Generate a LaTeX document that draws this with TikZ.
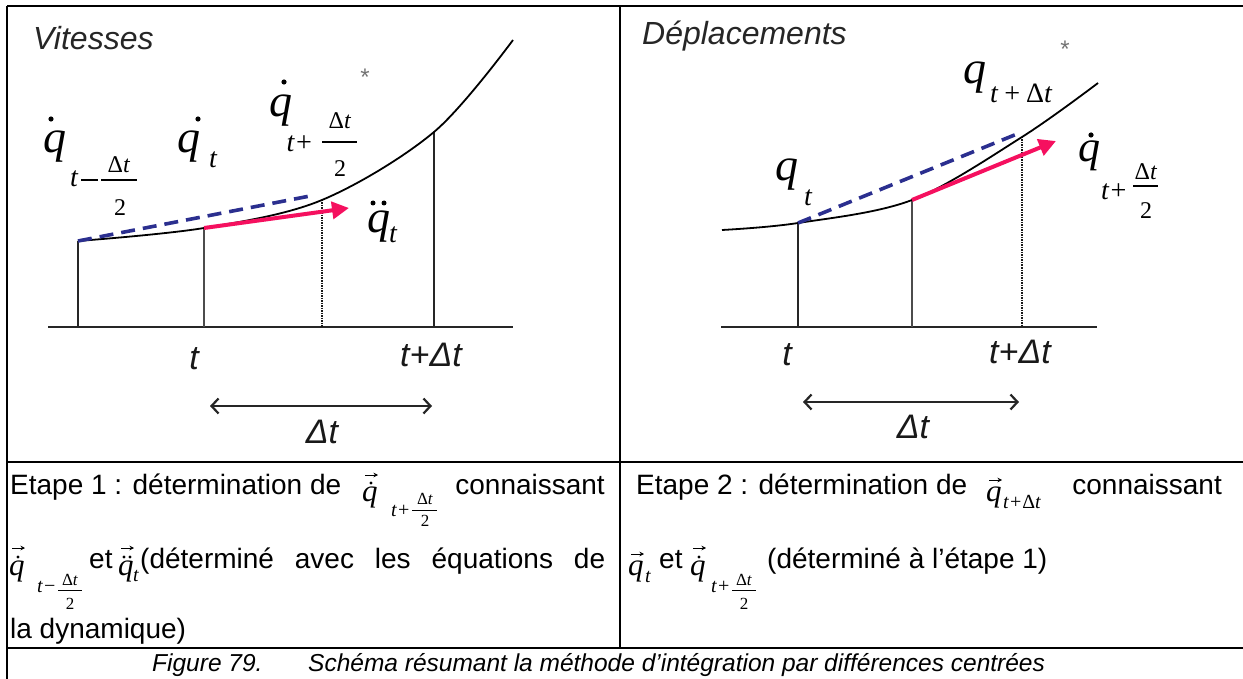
\documentclass[tikz,border=0pt]{standalone}
\usepackage{fontspec}
\setmainfont{Liberation Sans}
\newfontfamily\tms{Liberation Serif}
\usetikzlibrary{arrows.meta}
\definecolor{dblue}{HTML}{2B2F8F}
\definecolor{hpink}{HTML}{F5105F}
\tikzset{
  framel/.style={line width=2.4pt, black},
  axisline/.style={line width=2.6pt, black!85},
  curveline/.style={line width=1.8pt, black},
  vthick/.style={line width=2.6pt, black!85},
  vthin/.style={line width=1.3pt, black!70},
  vdots/.style={line width=2.4pt, black!90, dash pattern=on 1.5pt off 1pt},
  bluedash/.style={line width=3.6pt, dblue, dash pattern=on 14pt off 8pt},
  pinkarrow/.style={line width=4pt, hpink, -{Triangle[length=17pt,width=17pt]}},
  dimarrow/.style={line width=2.2pt, black!85, {Straight Barb[length=7pt,width=15pt]}-{Straight Barb[length=7pt,width=15pt]}},
  paneltitle/.style={font=\fontsize{32}{32}\selectfont\itshape, anchor=base west, inner sep=0, text=black!85},
  tlab/.style={font=\fontsize{34}{34}\selectfont\itshape, inner sep=0, text=black!90},
  bigq/.style={font=\fontsize{46}{46}\selectfont\tms\itshape, anchor=base, inner sep=0},
  midq/.style={font=\fontsize{44}{44}\selectfont\tms\itshape, anchor=base, inner sep=0},
  subt/.style={font=\fontsize{28}{28}\selectfont\tms\itshape, anchor=base, inner sep=0},
  fracn/.style={font=\fontsize{24}{24}\selectfont\tms, anchor=base, inner sep=0},
  starmark/.style={font=\fontsize{24}{24}\selectfont, inner sep=0, text=black!55},
  txt/.style={font=\fontsize{28}{34}\selectfont, anchor=base west, inner sep=0},
  tq/.style={font=\fontsize{31}{31}\selectfont\tms\itshape, anchor=base west, inner sep=0},
  tsub/.style={font=\fontsize{20}{20}\selectfont\tms\itshape, anchor=base west, inner sep=0},
  tfrac/.style={font=\fontsize{17}{17}\selectfont\tms, anchor=base, inner sep=0},
  vecarr/.style={line width=1pt, -{Stealth[length=4.5pt,width=4.5pt]}},
  fbar/.style={line width=1.3pt},
  tbar/.style={line width=0.9pt},
  captxt/.style={font=\fontsize{24.5}{30}\selectfont\itshape, anchor=base west, inner sep=0},
}
% text-row vector q: #1 name, #2 x, #3 baseline y, #4 number of dots, #5 arrow height
\newcommand\qvec[5]{%
  \node[tq] (#1) at (#2,#3) {q};
  \draw[vecarr] ({#2+3},{#3-#5}) -- ({#2+16},{#3-#5});
  \ifcase#4\relax
  \or \fill ({#2+9},{#3-18}) circle (1.7);
  \or \fill ({#2+6},{#3-18}) circle (1.7); \fill ({#2+12},{#3-18}) circle (1.7);
  \fi}
\begin{document}
\begin{tikzpicture}[x=1pt,y=-1pt]
\useasboundingbox (0,0) rectangle (1243,679);
% ---------- frame ----------
\coordinate (TL) at (7,6);
\coordinate (TR) at (1243,6);
\coordinate (ML) at (7,462);
\coordinate (MR) at (1243,462);
\coordinate (BL) at (7,648);
\coordinate (BR) at (1243,648);
\coordinate (BB) at (7,679);
\coordinate (DT) at (620,6);
\coordinate (DB) at (620,648);
\draw[framel] (TL) -- (TR);
\draw[framel] (TL) -- (BB);
\draw[framel] (ML) -- (MR);
\draw[framel] (BL) -- (BR);
\draw[framel] (DT) -- (DB);

% ---------- left panel: Vitesses ----------
\node[paneltitle] (vit) at (33,50) {Vitesses};
\coordinate (L0) at (78,241);
\coordinate (L1) at (204,228);
\coordinate (L2) at (322,200);
\coordinate (L3) at (434,132);
\coordinate (L4) at (513,40);
\coordinate (LA0) at (48,327);
\coordinate (LA1) at (513,327);
\coordinate (L0b) at (78,327);
\coordinate (L1b) at (204,327);
\coordinate (L2b) at (322,327);
\coordinate (L3b) at (434,327);
\coordinate (LBend) at (310,196);
\coordinate (LPend) at (349,208);
\draw[axisline] (LA0) -- (LA1);
\draw[vthick] (L0) -- (L0b);
\draw[vthin] (L1) -- (L1b);
\draw[vdots] (L2) -- (L2b);
\draw[vthick] (L3) -- (L3b);
\draw[curveline] plot[smooth, tension=0.55] coordinates {(L0) (L1) (L2) (L3) (L4)};
\draw[bluedash] (L0) -- (LBend);
\draw[pinkarrow] (L1) -- (LPend);

% labels left
\node[bigq] (qa) at (55,153) {q};
\fill (51,119) circle (2.6);
\node[subt] (qa-t) at (74,187) {t};
\coordinate (qa-m0) at (81,180);
\coordinate (qa-m1) at (98,180);
\draw[fbar] (qa-m0) -- (qa-m1);
\coordinate (qa-f0) at (101,180);
\coordinate (qa-f1) at (137,180);
\draw[fbar] (qa-f0) -- (qa-f1);
\node[fracn] (qa-n) at (119,173) {Δ\textit{t}};
\node[fracn] (qa-d) at (120,216) {2};

\node[bigq] (qb) at (189,153) {q};
\fill (198,119) circle (2.6);
\node[subt] (qb-t) at (213,168) {t};

\node[bigq] (qc) at (281,117) {q};
\fill (284,82) circle (2.6);
\node[subt] (qc-t) at (300,152) {t+};
\coordinate (qc-f0) at (322,142);
\coordinate (qc-f1) at (357,142);
\draw[fbar] (qc-f0) -- (qc-f1);
\node[fracn] (qc-n) at (340,129) {Δ\textit{t}};
\node[fracn] (qc-d) at (340,177) {2};
\node[starmark] (qc-s) at (365,77) {*};

\node[bigq] (qd) at (379,233) {q};
\fill (373,203) circle (2.5);
\fill (384,203) circle (2.5);
\node[subt] (qd-t) at (393,243) {t};

\node[tlab] (lt) at (194,359) {t};
\node[tlab] (ltdt) at (431,355) {t+Δt};
\coordinate (LD0) at (210,406);
\coordinate (LD1) at (432,406);
\draw[dimarrow] (LD0) -- (LD1);
\node[tlab] (ldt) at (322,432) {Δt};

% ---------- right panel: Deplacements ----------
\node[paneltitle] (dep) at (642,45) {Déplacements};
\coordinate (R0) at (722,230);
\coordinate (R1) at (798,223);
\coordinate (R2) at (912,200);
\coordinate (R3) at (1022,137);
\coordinate (R4) at (1098,83);
\coordinate (RA0) at (721,327);
\coordinate (RA1) at (1097,327);
\coordinate (R1b) at (798,327);
\coordinate (R2b) at (912,327);
\coordinate (R3b) at (1022,327);
\coordinate (RBend) at (1017,134);
\coordinate (RPend) at (1056,141);
\draw[axisline] (RA0) -- (RA1);
\draw[vthick] (R1) -- (R1b);
\draw[vthin] (R2) -- (R2b);
\draw[vdots] (R3) -- (R3b);
\draw[curveline] plot[smooth, tension=0.55] coordinates {(R0) (R1) (R2) (R3) (R4)};
\draw[bluedash] (R1) -- (RBend);
\draw[pinkarrow] (R2) -- (RPend);

\node[bigq] (qe) at (787,181) {q};
\node[subt] (qe-t) at (808,206) {t};

\node[bigq] (qf) at (975,84) {q};
\node[subt, anchor=base west] (qf-t) at (990,103) {t\,+\,{\upshape Δ}t};
\node[starmark] (qf-s) at (1065,49) {*};

\node[midq] (qg) at (1089,162) {q};
\fill (1091,135) circle (2.6);
\node[subt, anchor=base west] (qg-t) at (1101,200) {t+};
\coordinate (qg-f0) at (1133,186);
\coordinate (qg-f1) at (1158,186);
\draw[fbar] (qg-f0) -- (qg-f1);
\node[fracn] (qg-n) at (1146,180) {Δ\textit{t}};
\node[fracn] (qg-d) at (1146,219) {2};

\node[tlab] (rt) at (787,355) {t};
\node[tlab] (rtdt) at (1020,352) {t+Δt};
\coordinate (RD0) at (803,402);
\coordinate (RD1) at (1019,402);
\draw[dimarrow] (RD0) -- (RD1);
\node[tlab] (rdt) at (913,427) {Δt};

% ---------- text row, left cell ----------
\node[txt] (e1a) at (10,494) {Etape 1 : détermination de};
\qvec{e1q}{362}{501}{1}{26}
\node[tsub] (e1s) at (391,516) {t+};
\coordinate (e1b0) at (412,510);
\coordinate (e1b1) at (437,510);
\draw[tbar] (e1b0) -- (e1b1);
\node[tfrac] (e1n) at (425,504) {Δ\textit{t}};
\node[tfrac] (e1d) at (425,526) {2};
\node[txt, anchor=base east] (e1c) at (605,494) {connaissant};

\qvec{e2q}{9}{575}{1}{27}
\node[tsub] (e2s) at (37,592) {t−};
\coordinate (e2b0) at (58,590);
\coordinate (e2b1) at (82,590);
\draw[tbar] (e2b0) -- (e2b1);
\node[tfrac] (e2n) at (70,585) {Δ\textit{t}};
\node[tfrac] (e2d) at (70,609) {2};
\node[txt] (e2et) at (89,568) {et};
\qvec{e2qq}{118}{575}{2}{27}
\node[tsub] (e2qs) at (133,581) {t};
\node[txt] (e2c) at (140,568) {\makebox[465pt][s]{(déterminé avec les équations de}};
\node[txt] (e3) at (10,638) {la dynamique)};

% ---------- text row, right cell ----------
\node[txt] (f1a) at (636,494) {Etape 2 : détermination de};
\qvec{f1q}{986}{501}{0}{21}
\node[tsub] (f1s) at (1003,508) {t+{\upshape Δ}t};
\node[txt, anchor=base east] (f1c) at (1222,494) {connaissant};

\qvec{f2q}{628}{575}{0}{21}
\node[tsub] (f2qs) at (645,582) {t};
\node[txt] (f2et) at (659,568) {et};
\qvec{f2qq}{690}{575}{1}{27}
\node[tsub] (f2s) at (711,592) {t+};
\coordinate (f2b0) at (732,590);
\coordinate (f2b1) at (756,590);
\draw[tbar] (f2b0) -- (f2b1);
\node[tfrac] (f2n) at (744,585) {Δ\textit{t}};
\node[tfrac] (f2d) at (744,609) {2};
\node[txt] (f2c) at (767,568) {(déterminé à l’étape 1)};

% ---------- caption ----------
\node[captxt] (capa) at (152,671) {Figure 79.};
\node[captxt] (capb) at (308,671) {Schéma résumant la méthode d’intégration par différences centrées};
\end{tikzpicture}
\end{document}
